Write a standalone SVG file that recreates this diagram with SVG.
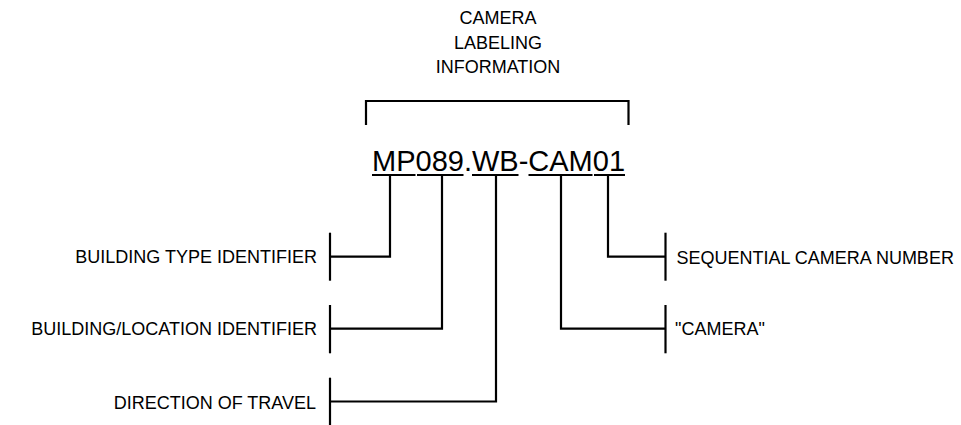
<svg xmlns="http://www.w3.org/2000/svg" width="961" height="425" viewBox="0 0 961 425">
<style>
text{font-family:"Liberation Sans",Arial,sans-serif;fill:#000}
.lbl{font-size:18px}
.code{font-size:29px}
.ln{stroke:#000;stroke-width:2.2;fill:none;stroke-linecap:butt;stroke-linejoin:miter}
</style>
<rect width="961" height="425" fill="#fff"/>
<g id="title">
<text class="lbl" x="498" y="24.3" text-anchor="middle">CAMERA</text>
<text class="lbl" x="498" y="48.5" text-anchor="middle">LABELING</text>
<text class="lbl" x="498" y="72.8" text-anchor="middle">INFORMATION</text>
</g>
<g id="bracket">
<path class="ln" d="M366,125 V101 H628.5 V125"/>
</g>
<g id="code">
<text class="code" x="372" y="170.7">MP089.WB-CAM01</text>
<path class="ln" d="M372,175 H415.5 M417,175 H463.5 M472,175 H518.5 M528.5,175 H592.5 M594,175 H625"/>
</g>
<g id="connectors">
<path class="ln" d="M390,175 V256.7 H330"/>
<path class="ln" d="M442,175 V328.7 H330"/>
<path class="ln" d="M496,175 V401.5 H330"/>
<path class="ln" d="M608,175 V256.7 H665.5"/>
<path class="ln" d="M561,175 V328.7 H665.5"/>
</g>
<g id="building-type">
<path class="ln" d="M330,232.7 V280.7"/>
<text class="lbl" x="317" y="262.7" text-anchor="end">BUILDING TYPE IDENTIFIER</text>
</g>
<g id="building-location">
<path class="ln" d="M330,305 V353.3"/>
<text class="lbl" x="317" y="334.5" text-anchor="end">BUILDING/LOCATION IDENTIFIER</text>
</g>
<g id="direction">
<path class="ln" d="M330,377.7 V425"/>
<text class="lbl" x="316" y="408.5" text-anchor="end">DIRECTION OF TRAVEL</text>
</g>
<g id="sequential">
<path class="ln" d="M665.5,232.7 V280.7"/>
<text class="lbl" x="676.5" y="263.5">SEQUENTIAL CAMERA NUMBER</text>
</g>
<g id="camera">
<path class="ln" d="M665.5,305 V353.3"/>
<text class="lbl" x="675" y="335">"CAMERA"</text>
</g>
</svg>
